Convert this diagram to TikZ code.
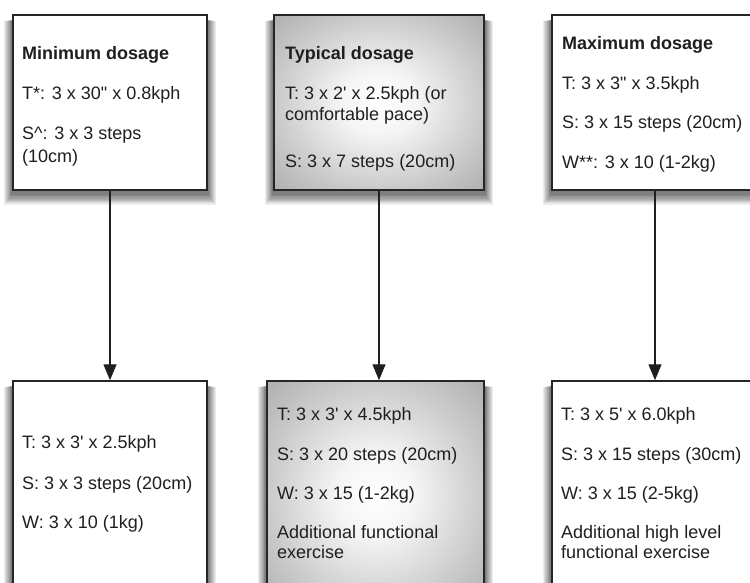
\documentclass[tikz,border=0pt]{standalone}
\usepackage{fontspec}
\newfontfamily\arialf{Liberation Sans}
\usetikzlibrary{arrows.meta}
\pgfdeclarelayer{bg}
\pgfsetlayers{bg,main}
\pgfdeclareradialshading{gboxshade}{\pgfpoint{0bp}{0bp}}{color(0bp)=(white); color(9bp)=(white!96!black); color(25bp)=(black!21); color(36bp)=(black!32); color(50bp)=(black!32)}
\begin{document}
\begin{tikzpicture}[x=1pt,y=-1pt,
  box/.style={draw=black!85, line width=1.5pt, fill=white, inner sep=0pt},
  gbox/.style={box, shading=gboxshade},
  shadowlayer/.style={fill=black, opacity=0.075},
  lbl/.style={anchor=base west, inner sep=0pt, font=\arialf\fontsize{18}{21}\selectfont, text=black!88},
  hdr/.style={lbl, font=\arialf\bfseries\fontsize{18}{21}\selectfont},
  arr/.style={line width=1.4pt, draw=black!88, -{Triangle[length=16pt,width=13pt]}}]
\useasboundingbox (0,0) rectangle (750,582);
\clip (0,0) rectangle (750,582);
% boxes
\node[box,  minimum width=194pt, minimum height=175pt] (tl) at (110,102.5) {};
\node[gbox, minimum width=210pt, minimum height=175pt] (tm) at (379,102.5) {};
\node[box,  minimum width=206pt, minimum height=175pt] (tr) at (655,102.5) {};
\node[box,  minimum width=194pt, minimum height=229pt] (bl) at (110,495.5) {};
\node[gbox, minimum width=217pt, minimum height=229pt] (bm) at (375.5,495.5) {};
\node[box,  minimum width=206pt, minimum height=229pt] (br) at (655,495.5) {};
% soft drop shadows
\begin{pgfonlayer}{bg}
\foreach \n in {tl,tm,tr,bl,bm,br}{
  \foreach \i in {1,...,9}{
    \fill[shadowlayer] ([shift={(-\i*0.9,5+\i*0.2)}]\n.north west) rectangle ([shift={(\i*0.9,3+\i*1.2)}]\n.south east);
  }
}
\end{pgfonlayer}
% arrows
\draw[arr] (tl.south) -- (bl.north);
\draw[arr] (tm.south) -- (tm.south |- bm.north);
\draw[arr] (tr.south) -- (br.north);
% top-left text
\node[hdr] (tl1) at (22,59) {Minimum dosage};
\node[lbl] (tl2) at (22,99) {T*: 3 x 30" x 0.8kph};
\node[lbl] (tl3) at (22,139) {S\textasciicircum: 3 x 3 steps};
\node[lbl] (tl4) at (22,162) {(10cm)};
% top-middle text
\node[hdr] (tm1) at (285,59) {Typical dosage};
\node[lbl] (tm2) at (285,99) {T: 3 x 2' x 2.5kph (or};
\node[lbl] (tm3) at (285,120) {comfortable pace)};
\node[lbl] (tm4) at (285,167) {S: 3 x 7 steps (20cm)};
% top-right text
\node[hdr] (tr1) at (562,49) {Maximum dosage};
\node[lbl] (tr2) at (562,89) {T: 3 x 3" x 3.5kph};
\node[lbl] (tr3) at (562,128) {S: 3 x 15 steps (20cm)};
\node[lbl] (tr4) at (562,168) {W**: 3 x 10 (1-2kg)};
% bottom-left text
\node[lbl] (bl1) at (22,448) {T: 3 x 3' x 2.5kph};
\node[lbl] (bl2) at (22,489) {S: 3 x 3 steps (20cm)};
\node[lbl] (bl3) at (22,528) {W: 3 x 10 (1kg)};
% bottom-middle text
\node[lbl] (bm1) at (277,420) {T: 3 x 3' x 4.5kph};
\node[lbl] (bm2) at (277,460) {S: 3 x 20 steps (20cm)};
\node[lbl] (bm3) at (277,499) {W: 3 x 15 (1-2kg)};
\node[lbl] (bm4) at (277,538) {Additional functional};
\node[lbl] (bm5) at (277,558) {exercise};
% bottom-right text
\node[lbl] (br1) at (561,420) {T: 3 x 5' x 6.0kph};
\node[lbl] (br2) at (561,460) {S: 3 x 15 steps (30cm)};
\node[lbl] (br3) at (561,499) {W: 3 x 15 (2-5kg)};
\node[lbl] (br4) at (561,538) {Additional high level};
\node[lbl] (br5) at (561,558) {functional exercise};
\end{tikzpicture}
\end{document}
